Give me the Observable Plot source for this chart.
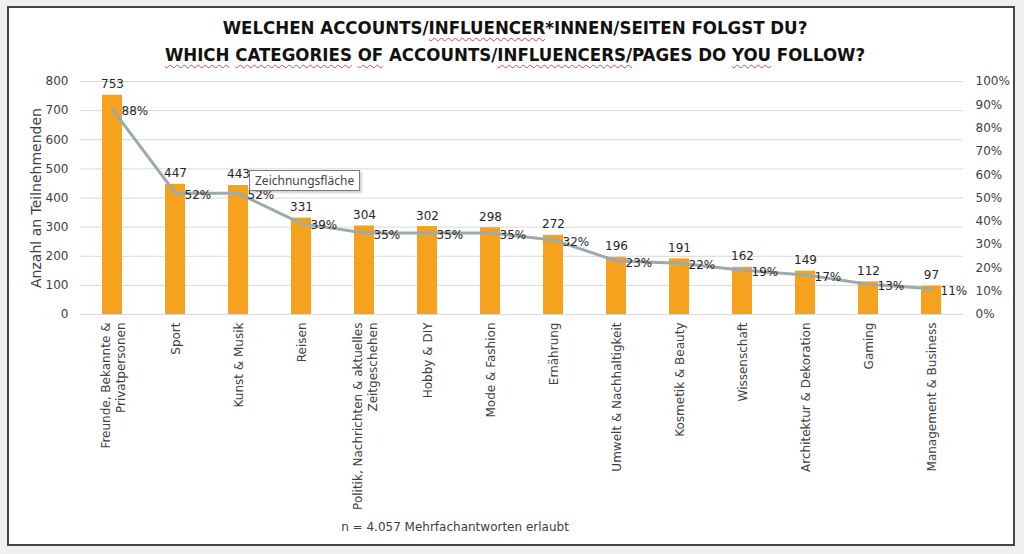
<!DOCTYPE html>
<html><head><meta charset="utf-8">
<script src="https://cdn.jsdelivr.net/npm/d3@7"></script>
<script src="https://cdn.jsdelivr.net/npm/@observablehq/plot@0.6"></script>
<style>
html,body{margin:0;padding:0;}
body{background:#f0f0f0;width:1024px;height:554px;overflow:hidden;position:relative;font-family:"DejaVu Sans",sans-serif;}
#frame{position:absolute;left:7px;top:6px;width:1008px;height:540px;border:2px solid #454545;background:#fff;box-sizing:border-box;}
#title{position:absolute;left:0;top:14px;width:1030px;text-align:center;font-family:"DejaVu Sans Condensed","DejaVu Sans",sans-serif;font-weight:bold;font-size:18.5px;line-height:27px;color:#111;}
.sp{text-decoration:underline wavy #e04848;text-decoration-thickness:1px;text-underline-offset:3px;}
#chart{position:absolute;left:0;top:65px;}
#foot{position:absolute;left:0;width:910px;top:520px;text-align:center;font-size:12px;color:#404040;}
#tip{position:absolute;left:249px;top:170px;height:19px;padding:0 5px;line-height:19px;font-family:"Noto Sans",sans-serif;font-size:12px;color:#444;background:#fff;border:1px solid #7a7a7a;box-shadow:2px 2px 2px rgba(0,0,0,0.18);}
</style></head>
<body>
<div id="frame"></div>
<div id="title">WELCHEN ACCOUNTS/<span class="sp">INFLUENCER</span>*INNEN/SEITEN FOLGST DU?<br><span class="sp">WHICH</span> <span class="sp">CATEGORIES</span> <span class="sp">OF</span> ACCOUNTS/<span class="sp">INFLUENCERS/</span>PAGES DO <span class="sp">YOU</span> FOLLOW?</div>
<div id="chart"></div>
<div id="foot">n = 4.057 Mehrfachantworten erlaubt</div>
<div id="tip">Zeichnungsfläche</div>
<script>
const categories = [
  "Freunde, Bekannte &\nPrivatpersonen",
  "Sport",
  "Kunst & Musik",
  "Reisen",
  "Politik, Nachrichten & aktuelles\nZeitgeschehen",
  "Hobby & DIY",
  "Mode & Fashion",
  "Ernährung",
  "Umwelt & Nachhaltigkeit",
  "Kosmetik & Beauty",
  "Wissenschaft",
  "Architektur & Dekoration",
  "Gaming",
  "Management & Business"
];
const counts = [753, 447, 443, 331, 304, 302, 298, 272, 196, 191, 162, 149, 112, 97];
const percents = [88, 52, 52, 39, 35, 35, 35, 32, 23, 22, 19, 17, 13, 11];
const countTicks = [0, 100, 200, 300, 400, 500, 600, 700, 800];
const percentTicks = [0, 10, 20, 30, 40, 50, 60, 70, 80, 90, 100];
const yTitle = "Anzahl an Teilnehmenden";

const data = categories.map((c, i) => ({cat: c, value: counts[i], pct: percents[i]}));
const toCount = p => p * 8; // 100% on the right axis aligns with 800 on the left axis

const chart = Plot.plot({
  width: 1024,
  height: 450,
  marginTop: 16,
  marginBottom: 201,
  marginLeft: 80,
  marginRight: 61,
  style: {fontFamily: "DejaVu Sans, sans-serif", fontSize: "12px", color: "#404040", background: "transparent"},
  x: {domain: categories, paddingInner: 0.68, paddingOuter: 0.34, label: null},
  y: {domain: [0, 800], label: null},
  marks: [
    Plot.gridY(countTicks, {stroke: "#d9d9d9", strokeOpacity: 1, strokeWidth: 1}),
    Plot.axisY(countTicks, {tickSize: 0, tickPadding: 12, label: null, fontSize: 12}),
    Plot.axisY(percentTicks.map(toCount), {anchor: "right", tickSize: 0, tickPadding: 12, textAnchor: "start", tickFormat: d => (d / 8) + "%", label: null, fontSize: 12}),
    Plot.barY(data, {x: "cat", y: "value", fill: "#F5A31F"}),
    Plot.lineY(data, {x: "cat", y: d => toCount(d.pct), stroke: "#9AAAAD", strokeWidth: 3}),
    Plot.text(data, {x: "cat", y: "value", text: d => String(d.value), lineAnchor: "bottom", dy: -7, fill: "#262626", fontSize: 12}),
    Plot.text(data, {x: "cat", y: d => toCount(d.pct), text: d => d.pct + "%", textAnchor: "start", dx: 9, dy: 2, fill: "#262626", fontSize: 12}),
    Plot.axisX({tickSize: 0, tickRotate: -90, tickPadding: 8, label: null, fontSize: 12, lineHeight: 1.25}),
    Plot.text([yTitle], {frameAnchor: "left", dx: -44, rotate: -90, textAnchor: "middle", fontSize: 14, fill: "#404040"})
  ]
});
document.getElementById("chart").appendChild(chart);
</script>
</body></html>
